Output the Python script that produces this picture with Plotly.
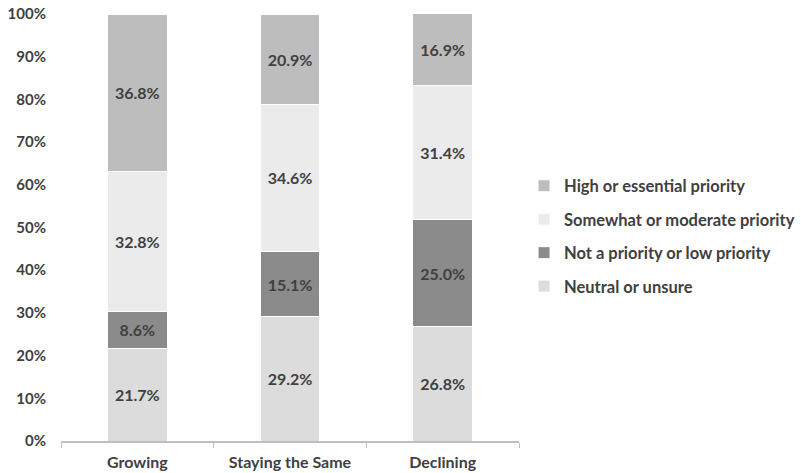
import plotly.graph_objects as go

categories = ["Growing", "Staying the Same", "Declining"]
series_names = ["Neutral or unsure", "Not a priority or low priority",
                "Somewhat or moderate priority", "High or essential priority"]
neutral = [21.7, 29.2, 26.8]
not_priority = [8.6, 15.1, 25.0]
somewhat = [32.8, 34.6, 31.4]
high = [36.8, 20.9, 16.9]
colors = ["#dcdcdd", "#8b8b8c", "#ebebec", "#bdbdbe"]
legend_ranks = [4, 3, 2, 1]
y_ticks = [0, 10, 20, 30, 40, 50, 60, 70, 80, 90, 100]

FONT = "Lato"
TXT = "#404040"

fig = go.Figure()
for name, vals, col, rank in zip(series_names, [neutral, not_priority, somewhat, high], colors, legend_ranks):
    fig.add_trace(go.Bar(
        x=categories, y=vals, name=name, legendgroup=name, legendrank=rank,
        marker=dict(color=col, line=dict(color="white", width=1)),
        text=[f"{v:.1f}%" for v in vals], textposition="inside",
        insidetextanchor="middle",
        textfont=dict(family=FONT, size=16, color=TXT, weight="bold"),
        constraintext="none",
    ))

fig.update_layout(
    barmode="stack", bargap=0.61,
    width=801, height=473,
    margin=dict(l=61, r=282, t=14, b=32, autoexpand=False),
    plot_bgcolor="white", paper_bgcolor="white",
    font=dict(family=FONT, size=15, color=TXT, weight="bold"),
    legend=dict(
        x=1.011, y=0.48, xanchor="left", yanchor="middle",
        traceorder="grouped", tracegroupgap=9,
        font=dict(family=FONT, size=16.5, color=TXT, weight="bold"),
        itemwidth=30,
    ),
    xaxis=dict(
        automargin=False,
        showline=True, linecolor="#bfbfbf", linewidth=1.5,
        ticks="outside", tickson="boundaries", ticklen=5, tickcolor="#bfbfbf",
        ticklabelstandoff=6,
        tickfont=dict(family=FONT, size=16, color=TXT, weight="bold"),
    ),
    yaxis=dict(
        automargin=False,
        range=[0, 100], tickvals=y_ticks, ticktext=[f"{v}%" for v in y_ticks],
        showgrid=False, zeroline=False, showline=False,
        ticklabelstandoff=14,
        tickfont=dict(family=FONT, size=15, color=TXT, weight="bold"),
    ),
)

fig.write_html("out.html")
